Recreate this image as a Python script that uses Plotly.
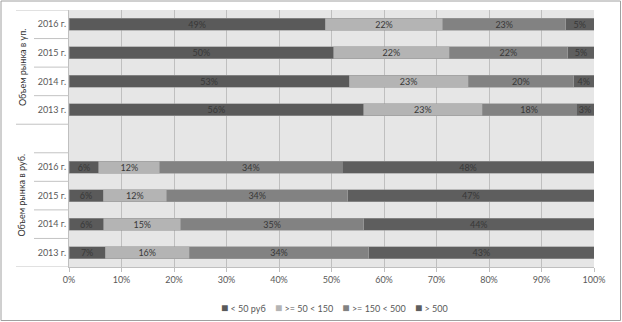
import plotly.graph_objects as go

# ---- data ----
years = ['2013 г.', '2014 г.', '2015 г.', '2016 г.']
groups = ['Объем рынка в руб.', 'Объем рынка в уп.']
series = ['< 50 руб', '>= 50 < 150', '>= 150 < 500', '> 500']

# market volume in roubles, shares by year 2013..2016
rub_lt50 = [6.9, 6.6, 6.5, 5.7]
rub_50_150 = [16.0, 14.7, 12.1, 11.6]
rub_150_500 = [34.2, 34.8, 34.5, 34.7]
rub_gt500 = [42.9, 43.9, 46.9, 48.0]
rub_lt50_lbl = [7, 6, 6, 6]
rub_50_150_lbl = [16, 15, 12, 12]
rub_150_500_lbl = [34, 35, 34, 34]
rub_gt500_lbl = [43, 44, 47, 48]

# market volume in packages, shares by year 2013..2016
up_lt50 = [56.1, 53.4, 50.4, 48.8]
up_50_150 = [22.6, 22.6, 22.0, 22.4]
up_150_500 = [17.9, 20.1, 22.6, 23.4]
up_gt500 = [3.4, 3.9, 5.0, 5.4]
up_lt50_lbl = [56, 53, 50, 49]
up_50_150_lbl = [23, 23, 22, 22]
up_150_500_lbl = [18, 20, 22, 23]
up_gt500_lbl = [3, 4, 5, 5]

colors = ['#5a5a5a', '#b4b4b4', '#828282', '#5e5e5e']

rub_series = [rub_lt50, rub_50_150, rub_150_500, rub_gt500]
up_series = [up_lt50, up_50_150, up_150_500, up_gt500]
rub_labels = [rub_lt50_lbl, rub_50_150_lbl, rub_150_500_lbl, rub_gt500_lbl]
up_labels = [up_lt50_lbl, up_50_150_lbl, up_150_500_lbl, up_gt500_lbl]

# category rows, bottom to top: roubles group (with its trailing blank row), then packages group
rows = [(groups[0], y) for y in years] + [(groups[0], '')] + [(groups[1], y) for y in years]
rub_pos = [rows.index((groups[0], y)) for y in years]
up_pos = [rows.index((groups[1], y)) for y in years]

# ---- layout geometry ----
W, H = 622, 322
L, R, T, B = 69, 28, 10, 55
PW, PH = W - L - R, H - T - B


def px_x(px):
    return (px - L) / PW


def px_y(py):
    return 1 - (py - T) / PH


FONT = 'Lato'
fig = go.Figure()

for i, name in enumerate(series):
    fig.add_trace(go.Bar(
        name=name,
        orientation='h',
        x=rub_series[i] + up_series[i],
        y=rub_pos + up_pos,
        text=[f'{v}%' for v in rub_labels[i] + up_labels[i]],
        textposition='inside',
        insidetextanchor='middle',
        constraintext='none',
        textfont=dict(family=FONT, size=9, color='#383838'),
        marker=dict(color=colors[i], line=dict(color='#9a9a9a', width=0.6)),
        width=0.42,
        showlegend=False,
        hoverinfo='x+y',
    ))

shapes = []
# category axis frame lines (left white area)
n = len(rows)
for k in range(n + 1):
    yb = k - 0.5
    # group boundaries extend further left
    is_group_edge = k == 0 or k == n or rows[k - 1][0] != rows[k][0]
    x0 = px_x(16) if is_group_edge else px_x(34)
    shapes.append(dict(type='line', xref='paper', yref='y', x0=x0, x1=0, y0=yb, y1=yb,
                       line=dict(color='#c3c3c3', width=1)))
# outer chart border
shapes.append(dict(type='rect', xref='paper', yref='paper',
                   x0=px_x(1), x1=px_x(W - 1.5), y0=px_y(H - 1.5), y1=px_y(1),
                   line=dict(color='#a0a0a0', width=1), layer='below'))

annotations = []
for g in groups:
    idx = [i for i, r in enumerate(rows) if r[0] == g]
    annotations.append(dict(
        text=g, xref='paper', yref='y', x=px_x(22), y=(min(idx) + max(idx)) / 2,
        textangle=-90, showarrow=False, xanchor='center', yanchor='middle',
        font=dict(family=FONT, size=9, color='#333333')))


def esc(s):
    return s.replace('<', '&lt;').replace('>', '&gt;')


legend_text = '&nbsp;&nbsp;&nbsp;&nbsp;'.join(
    f"<span style='color:{c};font-size:12px'>■</span>&nbsp;{esc(s)}" for s, c in zip(series, colors))
annotations.append(dict(
    text=legend_text, xref='paper', yref='paper', x=0.505, y=px_y(307),
    showarrow=False, xanchor='center', yanchor='middle',
    font=dict(family=FONT, size=9, color='#595959')))

fig.update_layout(
    barmode='stack',
    width=W, height=H,
    margin=dict(l=L, r=R, t=T, b=B),
    paper_bgcolor='white',
    plot_bgcolor='#e6e6e6',
    font=dict(family=FONT, size=9, color='#595959'),
    shapes=shapes,
    annotations=annotations,
    xaxis=dict(
        range=[0, 100], dtick=10, ticksuffix='%',
        showgrid=True, gridcolor='#bfbfbf', gridwidth=1,
        showline=True, linecolor='#bfbfbf', linewidth=1,
        ticks='outside', ticklen=4, tickcolor='#bfbfbf',
        zeroline=False, fixedrange=True,
        tickfont=dict(family=FONT, size=9, color='#595959'),
    ),
    yaxis=dict(
        range=[-0.5, n - 0.5],
        tickmode='array', tickvals=list(range(n)), ticktext=[r[1] for r in rows],
        showgrid=False, zeroline=False,
        showline=True, linecolor='#bfbfbf', linewidth=1,
        ticks='', fixedrange=True,
        tickfont=dict(family=FONT, size=9, color='#595959'),
    ),
)

fig.write_html('out.html', config={'displayModeBar': False},
               post_script="document.body.style.margin='0';document.body.style.overflow='hidden';")
